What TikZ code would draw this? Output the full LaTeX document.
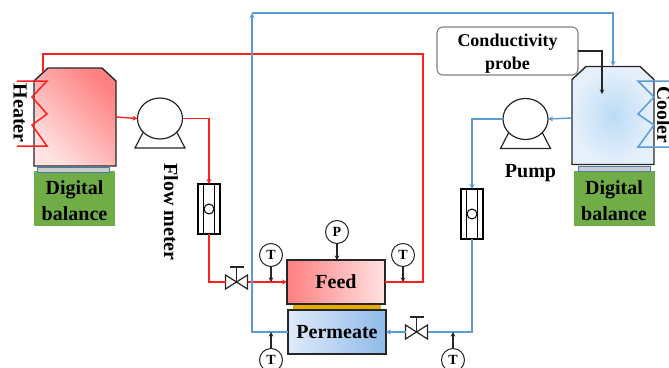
\documentclass[tikz,border=0pt]{standalone}
\usepackage{fontspec}
\setmainfont{Liberation Serif}
\usetikzlibrary{arrows.meta, positioning, calc, shapes.geometric}

\definecolor{hotline}{HTML}{FF1F1F}
\definecolor{hotdeep}{HTML}{FF8080}
\definecolor{hotpale}{HTML}{FFE2E2}
\definecolor{coldline}{HTML}{5B9BD5}
\definecolor{colddeep}{HTML}{BBDCF6}
\definecolor{coldpale}{HTML}{E6F0FB}
\definecolor{permpale}{HTML}{DFEBF9}
\definecolor{permdeep}{HTML}{8FBAEA}
\definecolor{balancegreen}{HTML}{70AD47}
\definecolor{membranegold}{HTML}{E8AC00}

\newcommand{\tankoutline}[1]{(#1.south west) -- ([yshift=-13pt]#1.north west) -- ([xshift=14pt]#1.north west)
    -- ([xshift=-14pt]#1.north east) -- ([yshift=-13pt]#1.north east) -- (#1.south east) -- cycle}

\begin{document}
\begin{tikzpicture}[
    x=1pt, y=-1pt,
    every node/.style={font=\fontsize{20}{26}\selectfont\bfseries, inner sep=0pt, outer sep=0pt, align=center},
    tankbox/.style={
        rectangle,
        minimum width=82pt,
        minimum height=98pt
    },
    tankshell/.style={
        draw=black!85,
        line width=1.4pt
    },
    balancebox/.style={
        rectangle,
        fill=balancegreen,
        minimum width=81pt,
        minimum height=55pt
    },
    platebox/.style={
        rectangle,
        draw=coldline!80!black,
        fill=black!20,
        line width=0.9pt,
        minimum width=72pt,
        minimum height=5pt
    },
    pumpbody/.style={
        ellipse,
        draw=black!85,
        fill=white,
        line width=1.2pt,
        minimum width=45pt,
        minimum height=41pt
    },
    flowbox/.style={
        rectangle,
        draw=black,
        fill=white,
        line width=1.2pt,
        minimum width=22pt,
        minimum height=50pt
    },
    gauge/.style={
        circle,
        draw=black!85,
        fill=white,
        line width=1pt,
        minimum size=23pt,
        font=\fontsize{14}{14}\selectfont\bfseries
    },
    valvebox/.style={
        rectangle,
        minimum width=22pt,
        minimum height=14pt
    },
    cellbox/.style={
        rectangle,
        draw=black!85,
        line width=1.4pt,
        minimum width=98pt,
        minimum height=44pt
    },
    hotflow/.style={
        draw=hotline,
        line width=1.4pt
    },
    coldflow/.style={
        draw=coldline,
        line width=1.4pt
    },
    flowarrow/.style={
        -{Stealth[length=5pt, width=5pt]}
    },
    probearrow/.style={
        draw=black!85,
        line width=1.1pt,
        -{Stealth[length=4.5pt, width=4.5pt]}
    }
]
\useasboundingbox (0,0) rectangle (669,367);
\clip (0,0) rectangle (669,367);

% Tanks and balances
\node[balancebox] (balance1) at (74.5,198.5) {\rule{0pt}{18pt}Digital\\balance};
\node[balancebox] (balance2) at (614,198.5) {\rule{0pt}{18pt}Digital\\balance};
\node[platebox] (plate1) at (73.5,169.5) {};
\node[platebox] (plate2) at (614,168.5) {};
\node[tankbox] (tank1) at (75,117) {};
\node[tankbox] (tank2) at (613,115.5) {};
\draw[tankshell, bottom color=hotpale, top color=hotdeep, shading angle=-45] \tankoutline{tank1};
\draw[tankshell, inner color=colddeep, outer color=coldpale] \tankoutline{tank2};

% Pumps
\node[pumpbody] (pump1) at (160,118.5) {};
\node[pumpbody] (pump2) at (525.5,119) {};
\foreach \p in {pump1, pump2} {
    \draw[black!85, line width=1.2pt] ([shift={(-17,14)}]\p.center) -- ([shift={(-25,29.5)}]\p.center)
        -- ([shift={(25,29.5)}]\p.center) -- ([shift={(17,14)}]\p.center);
}
\node[below=25pt of pump2, xshift=5pt] (pumplabel) {Pump};

% Flow meters
\node[flowbox] (flow1) at (209,209) {};
\node[flowbox] (flow2) at (472,214) {};
\foreach \m in {flow1, flow2} {
    \draw[black, line width=1.2pt] ([xshift=-5.5pt]\m.north) -- ([xshift=-5.5pt]\m.south);
    \draw[black, line width=1.2pt] ([xshift=5.5pt]\m.north) -- ([xshift=5.5pt]\m.south);
    \draw[black, line width=1pt, fill=white] (\m) circle (5pt);
}
\node[rotate=-90] (flowlabel) at (171,212) {Flow meter};

% Feed and permeate cell
\node[rectangle, fill=membranegold, minimum width=88pt, minimum height=7pt] (membrane) at (337,307) {};
\node[cellbox, left color=hotdeep, right color=hotpale] (feed) at (336,282) {Feed};
\node[cellbox, left color=permpale, right color=permdeep] (permeate) at (337,332) {Permeate};

% Valves
\node[valvebox] (valve1) at (236.5,282) {};
\node[valvebox] (valve2) at (416.5,332) {};
\foreach \v in {valve1, valve2} {
    \draw[black!85, line width=1.2pt, fill=white] (\v.north west) -- (\v.south east) -- (\v.north east)
        -- (\v.south west) -- cycle;
    \draw[black!85, line width=1.2pt] (\v.center) -- ([yshift=15pt]\v.center);
    \draw[black!85, line width=1.2pt] ([shift={(-7,-15)}]\v.center) -- ([shift={(7,-15)}]\v.center);
}

% Gauges
\node[gauge] (tfeedin) at (271,255) {T};
\node[gauge] (pfeed) at (337,232) {P};
\node[gauge] (tfeedout) at (403,255) {T};
\node[gauge] (tpermout) at (271,360) {T};
\node[gauge] (tpermin) at (453,360) {T};

% Probe
\node[rectangle, rounded corners=6pt, draw=black!50, line width=1.1pt, minimum width=141pt, minimum height=48pt,
      font=\fontsize{18}{23}\selectfont\bfseries] (probe) at (507.5,51) {\rule{0pt}{17pt}Conductivity\\probe};
\coordinate (probetip) at (602,94);

% Hot loop
\coordinate (heaterin) at (43,72);
\coordinate (hotcorner) at (423,54);
\draw[hotflow, flowarrow] (tank1.east) -- (pump1.west);
\draw[hotflow, flowarrow] (pump1.east) -| (flow1.north);
\draw[hotflow] (flow1.south) |- (valve1.west);
\draw[hotflow, flowarrow] (valve1.east) -- (feed.west);
\draw[hotflow] (feed.east) -| (hotcorner) -| (heaterin);

% Cold loop
\coordinate (coldcorner) at (252,13);
\coordinate (tankinlet) at (613,66);
\draw[coldflow, flowarrow] ([yshift=-2.5pt]tank2.west) -- (pump2.east);
\draw[coldflow, flowarrow] (pump2.west) -| (flow2.north);
\draw[coldflow] (flow2.south) |- (valve2.east);
\draw[coldflow, flowarrow] (valve2.west) -- (permeate.east);
\draw[coldflow, flowarrow] (permeate.west) -| (coldcorner);
\draw[coldflow, flowarrow] (coldcorner) -| (tankinlet);

% Heater and cooler coils
\draw[hotflow, line width=1.5pt] (17,81) -- (47,81) -- (32,97) -- (47,114) -- (32,125) -- (47,146) -- (17,146);
\draw[coldflow, line width=1.5pt] (669,81) -- (638,81) -- (654,97) -- (638,114) -- (654,125) -- (638,147) -- (669,147);
\node[rotate=-90] (heaterlabel) at (20,113) {Heater};
\node[rotate=-90, font=\fontsize{19.5}{22}\selectfont\bfseries] (coolerlabel) at (664,115) {Cooler};

% Gauge and probe arrows
\draw[probearrow] (tfeedin) -- (tfeedin |- feed.west);
\draw[probearrow] (tfeedout) -- (tfeedout |- feed.east);
\draw[probearrow] (pfeed) -- (pfeed |- feed.north);
\draw[probearrow] (tpermout) -- (tpermout |- permeate.west);
\draw[probearrow] (tpermin) -- (tpermin |- permeate.east);
\draw[probearrow, line width=1.3pt] (probe.east) -| (probetip);

\end{tikzpicture}
\end{document}
